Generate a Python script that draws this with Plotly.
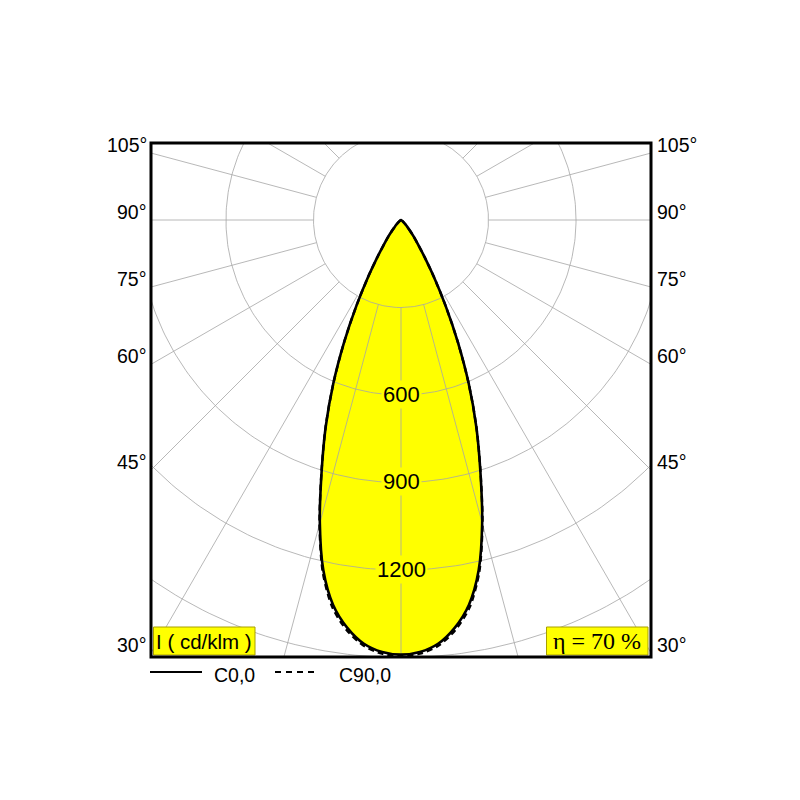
import numpy as np
import plotly.graph_objects as go

# ---------------- data (cd/klm) ----------------
angles_deg = [0, 2.5, 5, 7.5, 10, 12.5, 15, 17.5, 20, 22.5, 25, 27.5, 30, 32.5,
              35, 37.5, 40, 42.5, 45, 50, 55, 60, 65, 70, 75, 80, 85, 90]
intensity_c0 = [1490, 1482, 1458, 1410, 1340, 1230, 1075, 905, 755, 606, 460, 330, 225, 150,
                100, 70, 48, 32, 22, 10, 5, 2, 1, 0, 0, 0, 0, 0]
intensity_c90 = [1495, 1488, 1465, 1419, 1350, 1238, 1079, 907, 756, 606, 460, 330, 225, 150,
                 100, 70, 48, 32, 22, 10, 5, 2, 1, 0, 0, 0, 0, 0]

ring_values = [300, 600, 900, 1200, 1500, 1800]
ring_labels = [600, 900, 1200]
radial_step = 15
angle_tick_labels = [105, 90, 75, 60, 45, 30]
legend_names = ["C0,0", "C90,0"]
unit_label = "I ( cd/klm )"
efficiency_label = "η = 70 %"

# ---------------- geometry helpers ----------------
OFF = 8  # page body margin of the browser
XR = [-857, 857]
YR = [-1498, 264]
# screen pixel positions of the plot frame
SL, SR, ST, SB = 151, 651, 143, 657
L, T = SL - OFF, ST - OFF
W, H = SR - SL, SB - ST
R = 800 - L - W
B = 800 - T - H


def px(x):
    return (x - SL) / W


def py(y):
    return (SB - y) / H


def polar_curve(angles, vals):
    a = np.array(angles, dtype=float)
    v = np.array(vals, dtype=float)
    th = np.concatenate([-a[::-1], a[1:]])
    r = np.concatenate([v[::-1], v[1:]])
    t = np.radians(th)
    xs, ys = r * np.sin(t), -r * np.cos(t)
    # drop consecutive coincident points (zero intensity collapses to the origin)
    keep = [0]
    for i in range(1, len(xs)):
        if abs(xs[i] - xs[keep[-1]]) > 1e-9 or abs(ys[i] - ys[keep[-1]]) > 1e-9:
            keep.append(i)
    return xs[keep], ys[keep]


YELLOW = "#ffff00"
GRID = "#a6a6a6"
FONT = "Liberation Sans, Arial, sans-serif"

fig = go.Figure()

# yellow fill under C0
x0, y0 = polar_curve(angles_deg, intensity_c0)
fig.add_trace(go.Scatter(x=x0, y=y0, mode="lines", fill="toself", fillcolor=YELLOW,
                         line=dict(width=0, color=YELLOW, shape="spline", smoothing=0.8),
                         hoverinfo="skip", showlegend=False))

# radial grid lines (start at first ring)
gx, gy = [], []
rmin, rmax = ring_values[0], 4000
for k in range(0, 360, radial_step):
    t = np.radians(k)
    gx += [rmin * np.sin(t), rmax * np.sin(t), None]
    gy += [-rmin * np.cos(t), -rmax * np.cos(t), None]
fig.add_trace(go.Scatter(x=gx, y=gy, mode="lines", line=dict(color=GRID, width=0.8),
                         hoverinfo="skip", showlegend=False))

# ring grid circles
cx, cy = [], []
tt = np.linspace(0, 2 * np.pi, 361)
for rv in ring_values:
    cx += list(rv * np.sin(tt)) + [None]
    cy += list(-rv * np.cos(tt)) + [None]
fig.add_trace(go.Scatter(x=cx, y=cy, mode="lines", line=dict(color=GRID, width=0.8),
                         hoverinfo="skip", showlegend=False))

# curves
x90, y90 = polar_curve(angles_deg, intensity_c90)
fig.add_trace(go.Scatter(x=x90, y=y90, mode="lines", name=legend_names[1],
                         line=dict(color="black", width=2.4, dash="6px,4px",
                                   shape="spline", smoothing=0.8),
                         showlegend=False))
fig.add_trace(go.Scatter(x=x0, y=y0, mode="lines", name=legend_names[0],
                         line=dict(color="black", width=2.6, shape="spline", smoothing=0.8),
                         showlegend=False))

annotations = []
# ring value labels
for rv in ring_labels:
    annotations.append(dict(x=0, y=-rv, xref="x", yref="y", text=str(rv), showarrow=False,
                            font=dict(family=FONT, size=22, color="black"),
                            bgcolor=YELLOW, borderpad=1, xanchor="center", yanchor="middle",
                            yshift=1))

# angle labels on both sides
for a in angle_tick_labels:
    yv = -abs(XR[0]) / np.tan(np.radians(a)) if a != 90 else 0.0
    for side in (0, 1):
        annotations.append(dict(x=side, y=yv, xref="paper", yref="y", text=f"{a}°",
                                showarrow=False, font=dict(family=FONT, size=19.5, color="black"),
                                xanchor="right" if side == 0 else "left",
                                xshift=-2 if side == 0 else 4,
                                yanchor="middle", yshift=8))

# boxed labels
shapes = [
    dict(type="rect", xref="paper", yref="paper", x0=px(153.5), x1=px(255), y0=py(655), y1=py(627),
         fillcolor=YELLOW, line=dict(color="#a8a000", width=1), layer="above"),
    dict(type="rect", xref="paper", yref="paper", x0=px(546.5), x1=px(648), y0=py(655), y1=py(627),
         fillcolor=YELLOW, line=dict(color="#a8a000", width=1), layer="above"),
    # frame
    dict(type="rect", xref="paper", yref="paper", x0=0, x1=1, y0=0, y1=1,
         line=dict(color="black", width=3), layer="above"),
    # legend lines
    dict(type="line", xref="paper", yref="paper", x0=px(150), x1=px(202), y0=py(672), y1=py(672),
         line=dict(color="black", width=2.2)),
    dict(type="line", xref="paper", yref="paper", x0=px(275), x1=px(317), y0=py(672), y1=py(672),
         line=dict(color="black", width=2.2, dash="6px,5px")),
]
annotations.append(dict(x=px(204), y=py(641), xref="paper", yref="paper", text=unit_label,
                        showarrow=False, font=dict(family=FONT, size=20.5, color="black"),
                        xanchor="center", yanchor="middle"))
annotations.append(dict(x=px(597), y=py(641), xref="paper", yref="paper", text=efficiency_label,
                        showarrow=False,
                        font=dict(family="Liberation Serif, Times New Roman, serif", size=24,
                                  color="black"),
                        xanchor="center", yanchor="middle"))
annotations.append(dict(x=px(212), y=py(675), xref="paper", yref="paper", text=legend_names[0],
                        showarrow=False, font=dict(family=FONT, size=19.5, color="black"),
                        xanchor="left", yanchor="middle"))
annotations.append(dict(x=px(337), y=py(675), xref="paper", yref="paper", text=legend_names[1],
                        showarrow=False, font=dict(family=FONT, size=19.5, color="black"),
                        xanchor="left", yanchor="middle"))

fig.update_layout(
    width=800, height=800,
    margin=dict(l=L, r=R, t=T, b=B, pad=0),
    paper_bgcolor="white", plot_bgcolor="white",
    xaxis=dict(range=XR, visible=False, fixedrange=True),
    yaxis=dict(range=YR, visible=False, fixedrange=True),
    shapes=shapes, annotations=annotations, showlegend=False,
)

fig.write_html("out.html")
